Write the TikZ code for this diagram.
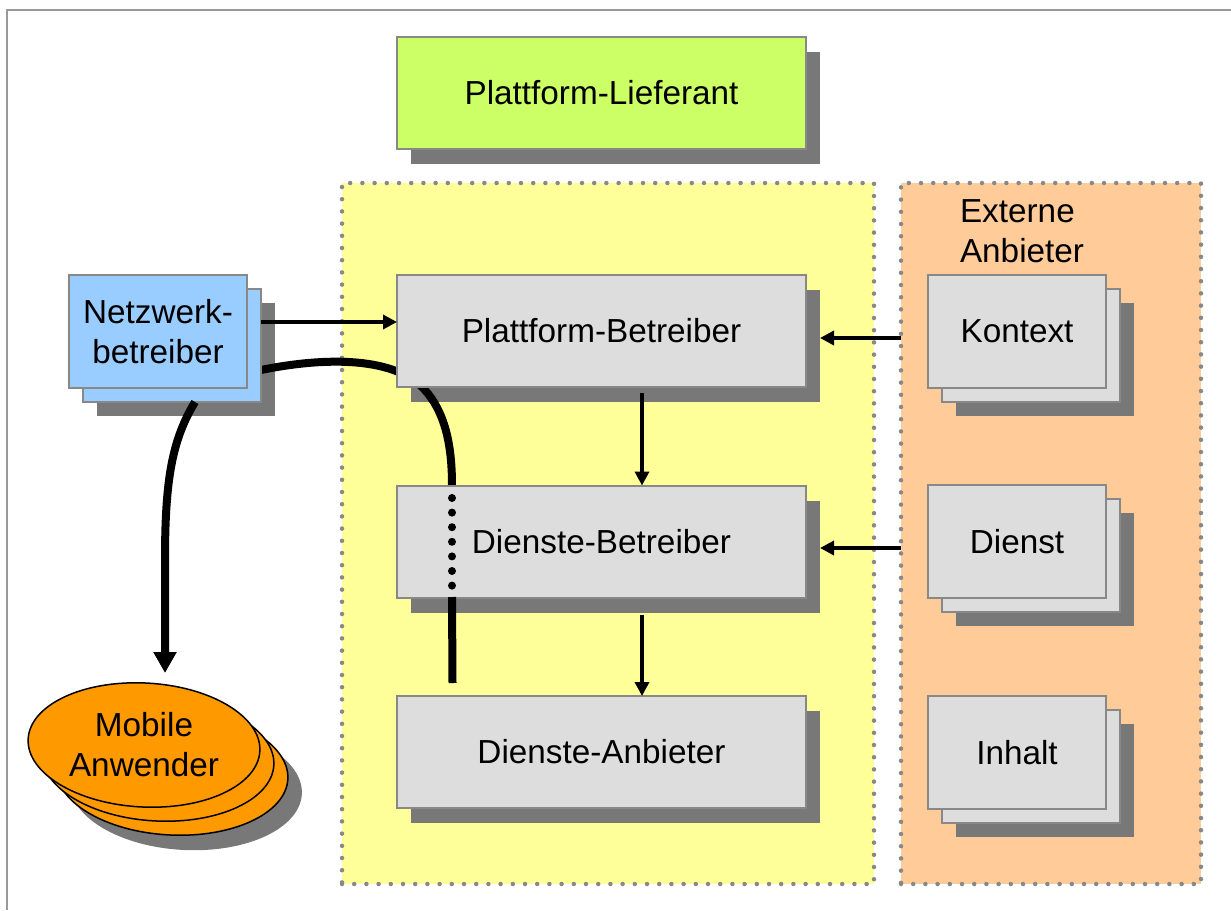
\documentclass[tikz,border=0pt]{standalone}
\usepackage{fontspec}
\setmainfont{Liberation Sans}
\usetikzlibrary{arrows.meta,calc,shapes.geometric}
\pgfdeclarelayer{back}\pgfdeclarelayer{bg}\pgfdeclarelayer{mid}
\pgfsetlayers{back,bg,mid,main}
\definecolor{shadc}{HTML}{787878}
\definecolor{boxc}{HTML}{DDDDDD}
\definecolor{bordc}{HTML}{888888}
\definecolor{greenc}{HTML}{CCFF66}
\definecolor{bluec}{HTML}{99CCFF}
\definecolor{yelc}{HTML}{FFFF99}
\definecolor{orac}{HTML}{FFCC99}
\definecolor{ellc}{HTML}{FF9900}
\definecolor{dotc}{HTML}{888888}
\definecolor{framec}{HTML}{999999}
\begin{document}
\begin{tikzpicture}[x=1pt,y=-1pt,
  txt/.style={font=\fontsize{33.3}{40}\selectfont, inner sep=0pt, outer sep=0pt},
  box/.style={txt, draw=bordc, line width=2pt, fill=boxc, align=center},
  mainbox/.style={box, minimum width=409pt, minimum height=112pt},
  smallbox/.style={box, minimum width=178pt, minimum height=113pt},
  region/.style={draw=dotc, line width=4.5pt, dash pattern=on 0pt off 12.2pt, line cap=round, inner sep=0pt, outer sep=0pt},
  arr/.style={line width=4.5pt, -{Triangle[length=14pt,width=14pt]}},
  bigarr/.style={line width=8pt, -{Triangle[length=21pt,width=22pt]}},
  thickline/.style={line width=8pt},
  dotline/.style={line width=8pt, dash pattern=on 0pt off 14.6pt, line cap=round},
  ell/.style={draw=black, line width=1.5pt, fill=ellc}
]
\useasboundingbox (0,0) rectangle (1231,910);

\begin{pgfonlayer}{back}
  \draw[framec, line width=2pt] (7,910) -- (7,10) -- (1231,10);
  \node[region, fill=yelc, minimum width=532pt, minimum height=701pt] (plat) at (608,533.5) {};
  \node[region, fill=orac, minimum width=300pt, minimum height=701pt] (ext) at (1051,533.5) {};
\end{pgfonlayer}

% main boxes
\node[mainbox, fill=greenc] (pl) at (601.5,92.5) {Plattform-Lieferant};
\node[mainbox] (pb) at (601.5,331) {Plattform-Betreiber};
\node[mainbox] (db) at (601.5,541.5) {Dienste-Betreiber};
\node[mainbox] (da) at (601.5,752) {Dienste-Anbieter};

% stacked boxes
\node[smallbox, fill=bluec] (nwb) at (172,345.5) {};
\node[smallbox, fill=bluec] (nw) at (158,331.5) {Netzwerk-\\betreiber};
\node[smallbox] (konb) at (1031,345.5) {};
\node[smallbox] (kon) at (1017,331.5) {Kontext};
\node[smallbox] (dstb) at (1031,555.5) {};
\node[smallbox] (dst) at (1017,541.5) {Dienst};
\node[smallbox] (inhb) at (1031,766.5) {};
\node[smallbox] (inh) at (1017,752.5) {Inhalt};

\node[txt, align=left, anchor=north west] (extlabel) at (960,200) {Externe\\Anbieter};

\begin{pgfonlayer}{bg}
  \foreach \n in {pl,pb,db,da}
    \fill[shadc] ([shift={(14,15)}]\n.north west) rectangle ([shift={(14,15)}]\n.south east);
  \foreach \n in {nw,kon,dst,inh}
    \fill[shadc] ([shift={(28,28)}]\n.north west) rectangle ([shift={(28,28)}]\n.south east);
\end{pgfonlayer}

% mobile users
\fill[shadc, rotate around={-3:(186,788)}] (186,788) ellipse (116 and 62);
\draw[ell, rotate around={-3:(172,773)}] (172,773) ellipse (116 and 62);
\draw[ell, rotate around={-3:(158,759)}] (158,759) ellipse (116 and 62);
\draw[ell, rotate around={-3:(144,745)}] (144,745) ellipse (116 and 62);
\node[txt, ellipse, align=center, minimum width=232pt, minimum height=124pt] (mob) at (144,745) {Mobile\\Anwender};

% curve behind Plattform-Betreiber
\begin{pgfonlayer}{mid}
  \draw[thickline] (nwb.east |- 0,370) .. controls (330,356) and (395,358) .. (424,389)
        .. controls (447,414) and (452,450) .. (452,486);
\end{pgfonlayer}
\draw[dotline] (452,498) -- (452,586);
\draw[thickline] (452,597) -- ([shift={(-149,-13)}]da.north);

% arrows
\draw[arr] (nwb.east |- 0,322) -- (pb.west |- 0,322);
\draw[arr] (ext.west |- 0,338) -- ++(-81,0);
\draw[arr] (ext.west |- 0,548) -- ++(-81,0);
\draw[arr] ([shift={(40.5,6)}]pb.south) -- ([xshift=40.5pt]db.north);
\draw[arr] ([shift={(40.5,17)}]db.south) -- ([xshift=40.5pt]da.north);
\draw[bigarr] ([xshift=23pt]nwb.south) .. controls (172,440) and (165,480) .. (165,560) -- ([xshift=21pt,yshift=10pt]mob.north);
\end{tikzpicture}
\end{document}
